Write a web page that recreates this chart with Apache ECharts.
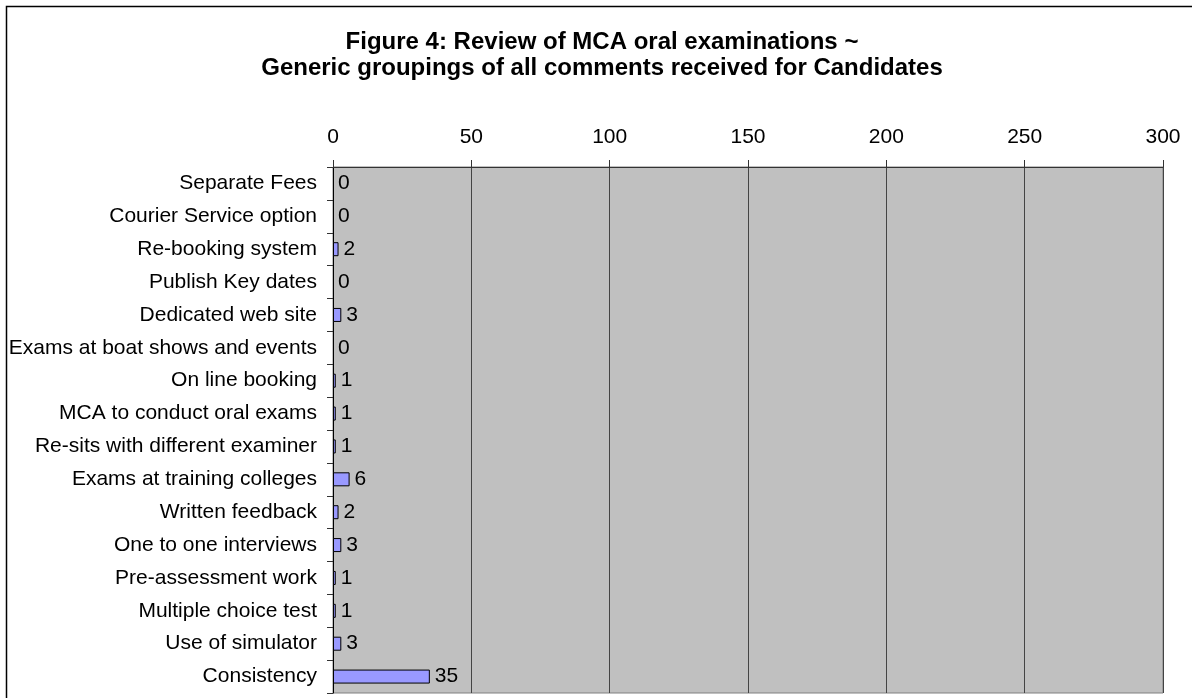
<!DOCTYPE html>
<html>
<head>
<meta charset="utf-8">
<script src="https://cdn.jsdelivr.net/npm/echarts@6/dist/echarts.min.js"></script>
<style>
  html, body { margin: 0; padding: 0; background: #fff; }
  #chart { width: 1192px; height: 698px; }
</style>
</head>
<body>
<div id="chart"></div>
<script>
// categories, top to bottom
let categories = [
    "Separate Fees",
    "Courier Service option",
    "Re-booking system",
    "Publish Key dates",
    "Dedicated web site",
    "Exams at boat shows and events",
    "On line booking",
    "MCA to conduct oral exams",
    "Re-sits with different examiner",
    "Exams at training colleges",
    "Written feedback",
    "One to one interviews",
    "Pre-assessment work",
    "Multiple choice test",
    "Use of simulator",
    "Consistency"
];
let counts = [0, 0, 2, 0, 3, 0, 1, 1, 1, 6, 2, 3, 1, 1, 3, 35];
let axisMin = 0, axisMax = 300, axisStep = 50;

let font = "'Liberation Sans', Arial, sans-serif";
let myChart = echarts.init(document.getElementById("chart"));

// zero bars have no outline, only their label
function barData(list) {
    return list.map(function (v) {
        if (v === 0) {
            return { value: v, itemStyle: { borderWidth: 0, color: "rgba(0,0,0,0)" } };
        }
        return v;
    });
}

let option = {
    animation: false,
    textStyle: { fontFamily: font },
    title: {
        text: "Figure 4: Review of MCA oral examinations ~\nGeneric groupings of all comments received for Candidates",
        left: 597,
        textAlign: "center",
        top: 24,
        textStyle: { fontFamily: font, fontSize: 24, fontWeight: "bold", color: "#000", lineHeight: 26 }
    },
    graphic: [
        {
            type: "rect",
            shape: { x: 6.5, y: 6.5, width: 1200, height: 720 },
            style: { fill: null, stroke: "#000", lineWidth: 1.5 },
            z: -1
        }
    ],
    grid: {
        left: 333, top: 167, right: 29, bottom: 5,
        show: true,
        backgroundColor: "#c0c0c0",
        borderColor: "#808080",
        borderWidth: 1
    },
    xAxis: {
        type: "value",
        position: "top",
        min: axisMin, max: axisMax, interval: axisStep,
        axisLine: { show: true, lineStyle: { color: "#333", width: 1 } },
        axisTick: { show: true, length: 7, lineStyle: { color: "#333" } },
        axisLabel: { fontSize: 21, color: "#000", margin: 19, fontFamily: font },
        splitLine: { show: true, lineStyle: { color: "#444", width: 1 } }
    },
    yAxis: {
        type: "category",
        inverse: true,
        data: categories,
        axisLine: { show: true, lineStyle: { color: "#000", width: 1 } },
        axisTick: { show: true, length: 6, lineStyle: { color: "#333" } },
        axisLabel: { fontSize: 21, color: "#000", margin: 16, fontFamily: font }
    },
    series: [
        {
            type: "bar",
            data: barData(counts),
            barWidth: 14,
            itemStyle: { color: "#9999ff", borderColor: "#000", borderWidth: 1 },
            label: {
                show: true,
                position: "right",
                distance: 5,
                fontSize: 21,
                color: "#000",
                fontFamily: font
            }
        }
    ]
};
myChart.setOption(option);
</script>
</body>
</html>
